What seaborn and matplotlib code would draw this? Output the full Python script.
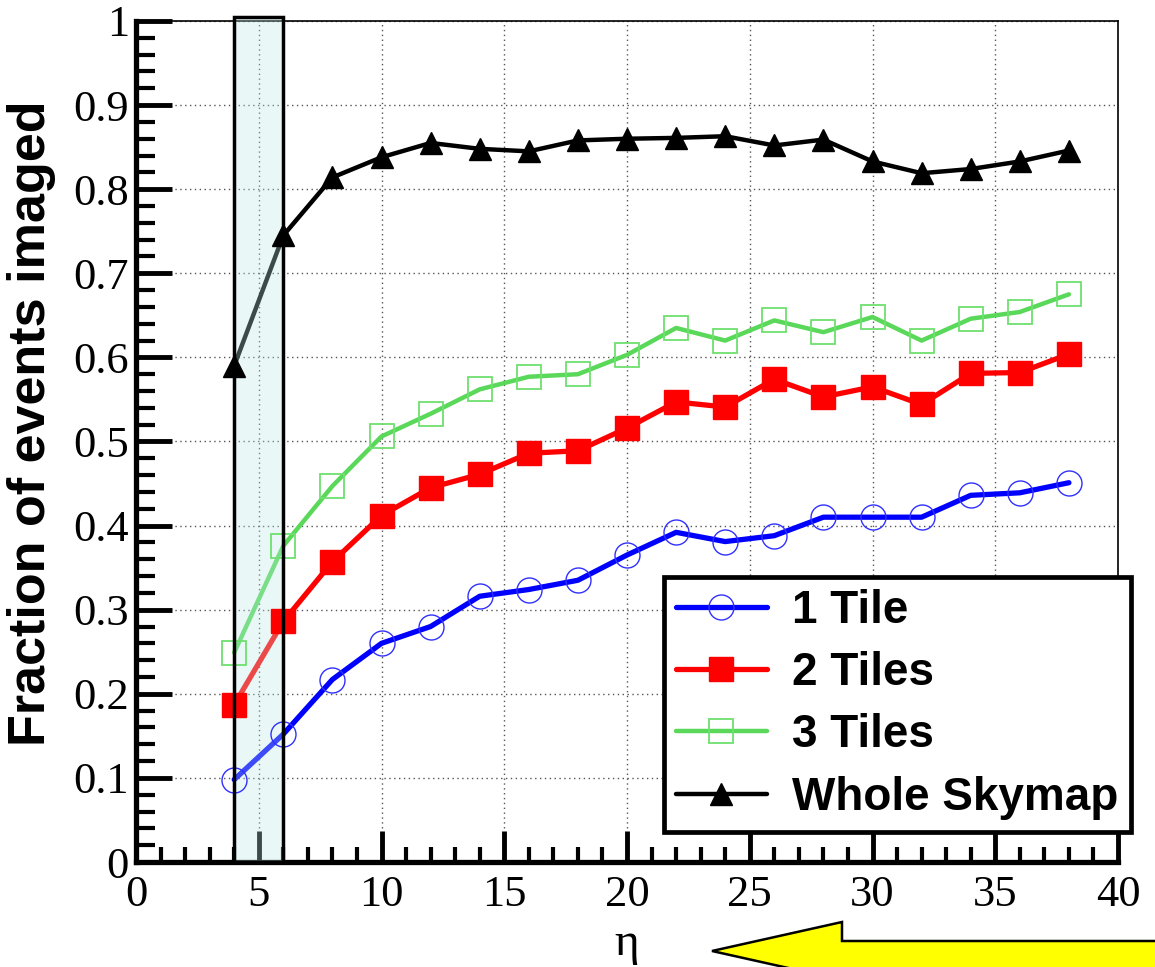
import matplotlib
matplotlib.use("Agg")
import matplotlib.pyplot as plt
import seaborn as sns
import pandas as pd
import numpy as np
from matplotlib.patches import Rectangle, Polygon
from matplotlib.lines import Line2D
from matplotlib.ticker import MultipleLocator

eta = [4, 6, 8, 10, 12, 14, 16, 18, 20, 22, 24, 26, 28, 30, 32, 34, 36, 38]
one_tile = [0.098, 0.152, 0.217, 0.260, 0.280, 0.316, 0.324, 0.335, 0.365, 0.392,
            0.381, 0.388, 0.410, 0.410, 0.410, 0.436, 0.439, 0.451]
two_tiles = [0.187, 0.286, 0.357, 0.412, 0.445, 0.461, 0.486, 0.489, 0.516, 0.547,
             0.541, 0.574, 0.553, 0.565, 0.544, 0.581, 0.582, 0.604]
three_tiles = [0.249, 0.376, 0.447, 0.506, 0.533, 0.562, 0.577, 0.580, 0.603, 0.635,
               0.620, 0.644, 0.630, 0.648, 0.620, 0.646, 0.654, 0.675]
whole_skymap = [0.590, 0.745, 0.814, 0.838, 0.855, 0.848, 0.845, 0.858, 0.860, 0.861,
                0.863, 0.852, 0.859, 0.833, 0.819, 0.824, 0.833, 0.846]
series_names = ["1 Tile", "2 Tiles", "3 Tiles", "Whole Skymap"]
x_ticks = [0, 5, 10, 15, 20, 25, 30, 35, 40]
y_ticks = [0, 0.1, 0.2, 0.3, 0.4, 0.5, 0.6, 0.7, 0.8, 0.9, 1]
y_tick_labels = ["0", "0.1", "0.2", "0.3", "0.4", "0.5", "0.6", "0.7", "0.8", "0.9", "1"]

sns.set_style("white")
plt.rcParams["font.family"] = ["Liberation Serif", "DejaVu Serif"]
plt.rcParams["text.color"] = "black"
plt.rcParams["axes.labelcolor"] = "black"
plt.rcParams["xtick.color"] = "black"
plt.rcParams["ytick.color"] = "black"

fig = plt.figure(figsize=(11.55, 9.67), dpi=100)
ax = fig.add_axes([136/1155, 1-862/967, (1118-136)/1155, (862-21)/967])

styles = {
    "1 Tile": dict(color="#0000ff", lw=3.8, marker="o", ms=18, mfc="none", mec="#3030ff", mew=1.0),
    "2 Tiles": dict(color="#ff0000", lw=3.8, marker="s", ms=17, mfc="#ff0000", mec="#ff0000", mew=1.0),
    "3 Tiles": dict(color="#5ad85a", lw=3.2, marker="s", ms=17, mfc="none", mec="#6ee06e", mew=1.3),
    "Whole Skymap": dict(color="#000000", lw=3.2, marker="^", ms=16, mfc="#000000", mec="#000000", mew=1.0),
}

df = pd.DataFrame({
    "eta": eta * 4,
    "frac": one_tile + two_tiles + three_tiles + whole_skymap,
    "series": sum([[n] * len(eta) for n in series_names], []),
})

for name in series_names:
    st = styles[name]
    sub = df[df["series"] == name]
    sns.lineplot(data=sub, x="eta", y="frac", ax=ax, color=st["color"], lw=st["lw"],
                 legend=False, zorder=2)
for name in series_names:
    st = styles[name]
    sub = df[df["series"] == name]
    sns.lineplot(data=sub, x="eta", y="frac", ax=ax, linestyle="", marker=st["marker"],
                 markersize=st["ms"], markerfacecolor=st["mfc"], markeredgecolor=st["mec"],
                 markeredgewidth=st["mew"], color=st["color"], legend=False, zorder=4)

# highlighted box
ax.add_patch(Rectangle((4, 0), 2, 1.005, facecolor="#bee8e8", alpha=0.32, edgecolor="none",
                       zorder=3, clip_on=False))
ax.add_patch(Rectangle((4, 0), 2, 1.005, facecolor="none", edgecolor="black", lw=2.5,
                       zorder=5, clip_on=False))

ax.set_xlim(0, 40)
ax.set_ylim(0, 1)
ax.set_xticks(x_ticks)
ax.set_xticklabels([str(t) for t in x_ticks])
ax.set_yticks(y_ticks)
ax.set_yticklabels(y_tick_labels)
ax.xaxis.set_minor_locator(MultipleLocator(1))
ax.yaxis.set_minor_locator(MultipleLocator(0.02))
ax.tick_params(axis="both", which="major", direction="in", length=22, width=3.5,
               labelsize=32, color="black", labelcolor="black")
ax.tick_params(axis="both", which="minor", direction="in", length=11, width=3.0, color="black")
ax.tick_params(axis="x", which="both", bottom=True, top=False, pad=9)
ax.tick_params(axis="y", which="both", left=True, right=False, pad=5)
ax.tick_params(axis="y", which="major", length=26)
ax.tick_params(axis="y", which="minor", length=14)

ax.grid(True, which="major", color="#555555", lw=1.0, linestyle=(0, (1, 2.5)))
ax.set_axisbelow(True)

for s in ["left", "bottom"]:
    ax.spines[s].set_linewidth(3.8)
    ax.spines[s].set_color("black")
for s in ["top", "right"]:
    ax.spines[s].set_linewidth(1.2)
    ax.spines[s].set_color("black")

ax.set_xlabel("η", fontsize=34, labelpad=6, family=["Liberation Serif", "DejaVu Serif"],
              color="black")
ax.set_ylabel("Fraction of events imaged", fontsize=37.5, fontweight="bold",
              family=["Liberation Sans", "DejaVu Sans"], color="black")
ax.yaxis.set_label_coords(-0.0815, 0.522)

handles = []
for name in series_names:
    st = styles[name]
    handles.append(Line2D([], [], color=st["color"], lw=st["lw"], marker=st["marker"],
                          markersize=st["ms"], markerfacecolor=st["mfc"],
                          markeredgecolor=st["mec"], markeredgewidth=st["mew"]))
leg = ax.legend(handles, series_names, loc="lower right", bbox_to_anchor=(1.013, 0.036),
                prop={"family": ["Liberation Sans", "DejaVu Sans"], "weight": "bold", "size": 33},
                frameon=True, fancybox=False, edgecolor="black", framealpha=1,
                handlelength=2.0, handletextpad=0.55, labelspacing=0.4, borderpad=0.26,
                borderaxespad=0.0)
leg.get_frame().set_linewidth(3.4)
leg.set_zorder(10)
for t in leg.get_texts():
    t.set_color("black")

# yellow arrow below the axis
pts_px = [(712, 951), (842, 922), (842, 941), (1165, 941), (1165, 985), (842, 985), (842, 980)]
pts = [(x / 1155, 1 - y / 967) for x, y in pts_px]
fig.patches.append(Polygon(pts, closed=True, facecolor="#ffff00", edgecolor="black", lw=1.8,
                           transform=fig.transFigure, figure=fig))

fig.savefig("out.png", dpi=100)
